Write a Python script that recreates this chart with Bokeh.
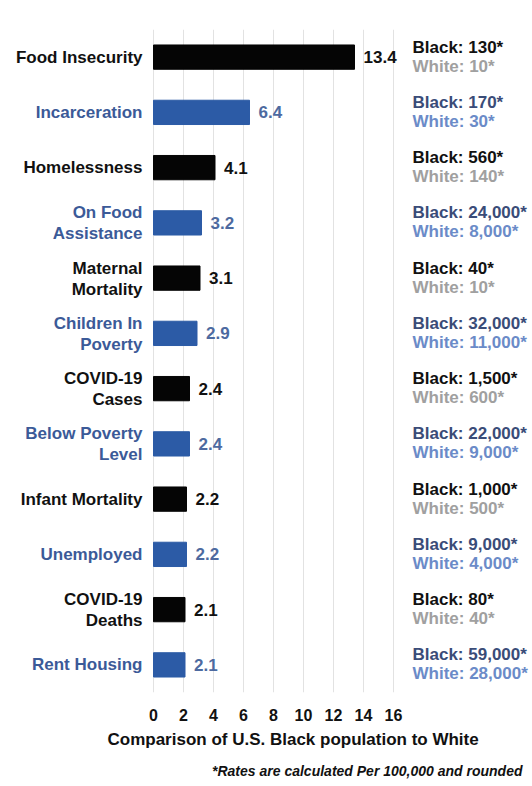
from bokeh.plotting import figure
from bokeh.models import ColumnDataSource, LabelSet, Title, FactorRange, Range1d, FixedTicker
from bokeh.core.properties import value
from bokeh.embed import file_html
from bokeh.resources import INLINE

# ---- data ----
categories = ["Food Insecurity", "Incarceration", "Homelessness", "On Food\nAssistance",
              "Maternal\nMortality", "Children In\nPoverty", "COVID-19\nCases",
              "Below Poverty\nLevel", "Infant Mortality", "Unemployed",
              "COVID-19\nDeaths", "Rent Housing"]
ratios = [13.4, 6.4, 4.1, 3.2, 3.1, 2.9, 2.4, 2.4, 2.2, 2.2, 2.1, 2.1]
black_rates = ["130", "170", "560", "24,000", "40", "32,000", "1,500", "22,000",
               "1,000", "9,000", "80", "59,000"]
white_rates = ["10", "30", "140", "8,000", "10", "11,000", "600", "9,000",
               "500", "4,000", "40", "28,000"]
x_ticks = [0, 2, 4, 6, 8, 10, 12, 14, 16]
x_title = "Comparison of U.S. Black population to White"
footnote = "*Rates are calculated Per 100,000 and rounded"

# ---- styles ----
FONT = value("Liberation Sans")
BAR_BLACK = "#050505"
BAR_BLUE = "#2c5ba6"
LAB_BLACK = "#111111"
LAB_BLUE = "#3b5a98"
VAL_BLUE = "#4d6aa0"
ANN_B_BLUE = "#3a4c78"
ANN_W_GREY = "#a0a0a0"
ANN_W_BLUE = "#6b8bc8"

W, H = 532, 786
PX_PER_UNIT = 15.0
ZERO_PX = 153  # horizontal position of value 0 inside the figure

n = len(categories)
ids = [c.replace("\n", " ") for c in categories]
is_blue = [i % 2 == 1 for i in range(n)]
lines = [c.split("\n") for c in categories]

src = ColumnDataSource(dict(
    id=ids,
    single=[l[0] if len(l) == 1 else "" for l in lines],
    top=[l[0] if len(l) == 2 else "" for l in lines],
    bottom=[l[1] if len(l) == 2 else "" for l in lines],
    ratio=ratios,
    ratio_txt=["{:.1f}".format(r) for r in ratios],
    black_txt=["Black: %s*" % b for b in black_rates],
    white_txt=["White: %s*" % w for w in white_rates],
    bar_color=[BAR_BLUE if b else BAR_BLACK for b in is_blue],
    lab_color=[LAB_BLUE if b else LAB_BLACK for b in is_blue],
    val_color=[VAL_BLUE if b else LAB_BLACK for b in is_blue],
    annb_color=[ANN_B_BLUE if b else LAB_BLACK for b in is_blue],
    annw_color=[ANN_W_BLUE if b else ANN_W_GREY for b in is_blue],
))

x_max = x_ticks[-1]
x_lo = -ZERO_PX / PX_PER_UNIT
x_hi = (W - ZERO_PX) / PX_PER_UNIT

p = figure(width=W, height=H,
           y_range=FactorRange(*ids[::-1]),
           x_range=Range1d(x_lo, x_hi),
           y_axis_location=None,
           output_backend="svg", toolbar_location=None,
           min_border_left=0, min_border_right=0,
           min_border_top=29, min_border_bottom=93)

p.outline_line_color = None
p.background_fill_color = "white"
p.border_fill_color = "white"
p.ygrid.grid_line_color = None
p.xgrid.ticker = FixedTicker(ticks=x_ticks)
p.xgrid.grid_line_color = "#e2e2e2"
p.xgrid.grid_line_width = 1

p.hbar(y="id", left=0, right="ratio", height=0.44, source=src,
       fill_color="bar_color", line_color="bar_color")

xa = p.xaxis[0]
xa.ticker = FixedTicker(ticks=x_ticks)
xa.axis_line_color = None
xa.major_tick_line_color = None
xa.minor_tick_line_color = None
xa.major_tick_out = 0
xa.major_tick_in = 0
xa.major_label_standoff = 16
xa.major_label_text_font = "Liberation Sans"
xa.major_label_text_font_size = "16px"
xa.major_label_text_font_style = "bold"
xa.major_label_text_color = LAB_BLACK

# category labels (each line right-aligned)
lab_kw = dict(x=0, y="id", source=src, x_offset=-11, text_align="right",
              text_baseline="middle", text_color="lab_color", text_font=FONT,
              text_font_size="17px", text_font_style="bold")
p.add_layout(LabelSet(text="single", y_offset=0, **lab_kw))
p.add_layout(LabelSet(text="top", y_offset=10, **lab_kw))
p.add_layout(LabelSet(text="bottom", y_offset=-11, **lab_kw))

# value labels
p.add_layout(LabelSet(x="ratio", y="id", text="ratio_txt", source=src, x_offset=9,
                      text_align="left", text_baseline="middle",
                      text_color="val_color", text_font=FONT,
                      text_font_size="17px", text_font_style="bold"))
# right annotations
p.add_layout(LabelSet(x=x_max, y="id", text="black_txt", source=src,
                      x_offset=19, y_offset=10,
                      text_align="left", text_baseline="middle",
                      text_color="annb_color", text_font=FONT,
                      text_font_size="17px", text_font_style="bold"))
p.add_layout(LabelSet(x=x_max, y="id", text="white_txt", source=src,
                      x_offset=19, y_offset=-9,
                      text_align="left", text_baseline="middle",
                      text_color="annw_color", text_font=FONT,
                      text_font_size="17px", text_font_style="bold"))

# axis title and footnote below the axis
p.add_layout(Title(text=x_title, align="left", offset=107, standoff=8,
                   text_color=LAB_BLACK, text_font="Liberation Sans",
                   text_font_size="17px", text_font_style="bold"), "below")
p.add_layout(Title(text=footnote, align="right", offset=10, standoff=16,
                   text_color=LAB_BLACK, text_font="Liberation Sans",
                   text_font_size="14px", text_font_style="bold italic"), "below")

open("out.html", "w").write(file_html(p, INLINE))
